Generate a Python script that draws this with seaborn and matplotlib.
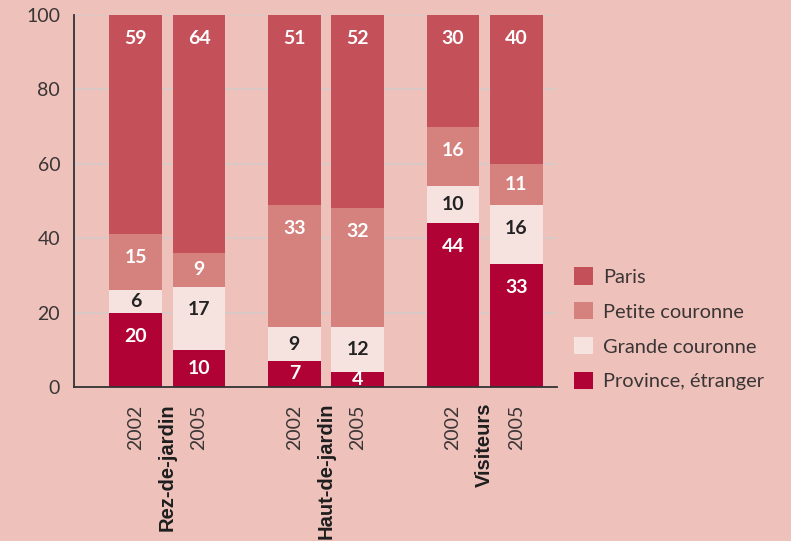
import pandas as pd
import seaborn as sns
import matplotlib.pyplot as plt
from matplotlib.patches import Patch
from matplotlib.transforms import blended_transform_factory

# Data (percent of each bar)
groups = ['Rez-de-jardin', 'Haut-de-jardin', 'Visiteurs']
years = ['2002', '2005', '2002', '2005', '2002', '2005']
positions = [0, 1, 2.5, 3.5, 5, 6]
series = ['Paris', 'Petite couronne', 'Grande couronne', 'Province, étranger']
province = [20, 10, 7, 4, 44, 33]
grande = [6, 17, 9, 12, 10, 16]
petite = [15, 9, 33, 32, 16, 11]
paris = [59, 64, 51, 52, 30, 40]

colors = {'Paris': '#C4505A', 'Petite couronne': '#D5827F',
          'Grande couronne': '#F6E2DF', 'Province, étranger': '#B10235'}
label_colors = {'Paris': 'white', 'Petite couronne': 'white',
                'Grande couronne': '#222222', 'Province, étranger': 'white'}
bg = '#EEC1BB'

# Build cumulative stack table (bottom to top)
stack = [('Province, étranger', province), ('Grande couronne', grande),
         ('Petite couronne', petite), ('Paris', paris)]
rows = []
for i, pos in enumerate(positions):
    base = 0
    for name, vals in stack:
        rows.append({'pos': pos, 'series': name, 'value': vals[i],
                     'bottom': base, 'top': base + vals[i]})
        base += vals[i]
df = pd.DataFrame(rows)

sns.set_style('white')
plt.rcParams['font.family'] = ['Lato', 'DejaVu Sans']

fig = plt.figure(figsize=(7.91, 5.41), dpi=100, facecolor=bg)
ax = fig.add_axes([0.0936, 0.2847, 0.6107, 0.6876], facecolor=bg)

# Draw tallest cumulative layer first so lower layers overlay it
for name in ['Paris', 'Petite couronne', 'Grande couronne', 'Province, étranger']:
    sub = df[df['series'] == name]
    sns.barplot(data=sub, x='pos', y='top', native_scale=True, color=colors[name],
                width=0.83, linewidth=0, errorbar=None, saturation=1, ax=ax, zorder=2)

# Segment labels
for _, r in df.iterrows():
    y = max((r['bottom'] + r['top']) / 2, r['top'] - 6.3)
    ax.text(r['pos'], y, str(r['value']), ha='center', va='center',
            fontsize=14, fontweight='bold', color=label_colors[r['series']], zorder=3)

ax.set_ylim(0, 100)
ax.set_xlim(-0.97, 6.64)
ax.set_yticks([0, 20, 40, 60, 80, 100])
ax.yaxis.grid(True, color='#D6CACA', linewidth=1.2, zorder=0)
ax.set_axisbelow(True)
ax.tick_params(axis='y', length=0, pad=10, labelsize=14, labelcolor='#3A3535')

ax.set_xticks(positions)
ax.set_xticklabels(years, rotation=90, fontsize=14, color='#3A3535')
ax.tick_params(axis='x', which='major', length=0, pad=13)
ax.set_xticks([1.75, 4.25, 6.64], minor=True)
ax.tick_params(axis='x', which='minor', direction='in', length=8, width=1.2, color='#333333')
ax.set_xlabel('')
ax.set_ylabel('')

for side in ['top', 'right']:
    ax.spines[side].set_visible(False)
for side in ['left', 'bottom']:
    ax.spines[side].set_color('#333333')
    ax.spines[side].set_linewidth(1.3)

# Group labels between the two bars of each group
trans = blended_transform_factory(ax.transData, ax.transAxes)
for g, x in zip(groups, [0.5, 3.0, 5.5]):
    ax.text(x, -0.043, g, transform=trans, rotation=90, ha='center', va='top',
            fontsize=14.5, fontweight='bold', family='Liberation Sans', color='#1E1E1E')

handles = [Patch(facecolor=colors[s], edgecolor='none') for s in series]
fig.legend(handles, series, loc='lower left', bbox_to_anchor=(0.703, 0.245),
           frameon=False, fontsize=14.4, labelcolor='#3A3535',
           handlelength=0.95, handleheight=0.95, handletextpad=0.5, labelspacing=0.82)

fig.savefig('out.png', dpi=100, facecolor=bg)
